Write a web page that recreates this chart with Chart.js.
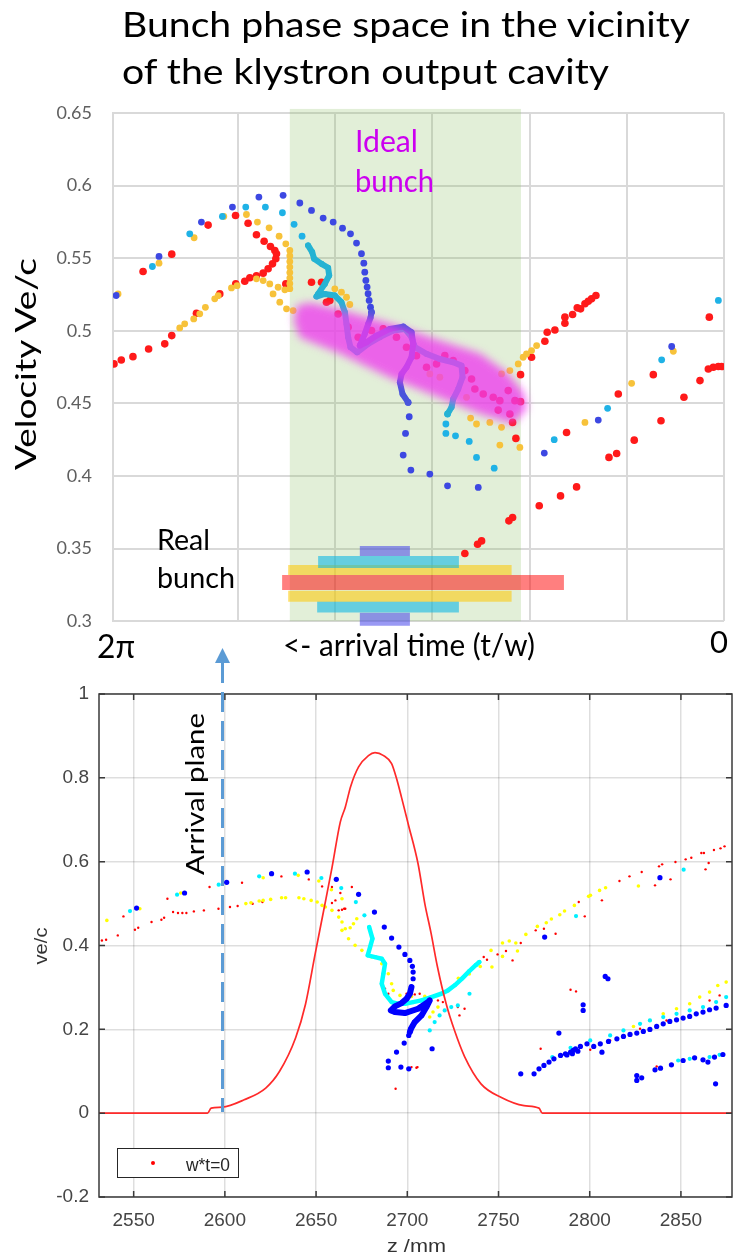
<!DOCTYPE html>
<html><head><meta charset="utf-8">
<script src="https://cdn.jsdelivr.net/npm/chart.js@4.4.0/dist/chart.umd.min.js"></script>
<style>
html,body{margin:0;padding:0;background:#fff;}
body{width:733px;height:1257px;overflow:hidden;position:relative;}
canvas{position:absolute;left:0;}
#top{top:0;}
#bot{top:670px;}
.t{position:absolute;white-space:nowrap;z-index:8;}
#leg{position:absolute;left:117px;top:1148px;width:120px;height:28px;border:1px solid #262626;background:#fff;z-index:6;}
#legdot{position:absolute;left:33px;top:12px;width:4px;height:4px;border-radius:2px;background:#ff0000;}
svg{position:absolute;left:0;top:0;z-index:7;}
</style></head><body>
<canvas id="top" width="733" height="653"></canvas>
<canvas id="bot" width="736" height="587"></canvas>
<div id="leg"><div id="legdot"></div></div>
<svg width="733" height="1257">
  <line x1="222.5" y1="663" x2="222.5" y2="1112" stroke="#5b9bd5" stroke-width="3" stroke-dasharray="20 9"/>
  <polygon points="222.5,648 215,663 230,663" fill="#5b9bd5"/>
</svg>
<script>
// ================= TOP CHART DATA (x: arrival phase t, reversed 0..2π ; y: Ve/c) =================
const topYTicks = [0.3,0.35,0.4,0.45,0.5,0.55,0.6,0.65];
const greenRange = [2.088, 4.465];
const idealBand = [
 [4.393,0.5174],[4.259,0.5194],[3.951,0.5146],[3.436,0.5050],[2.922,0.4933],[2.510,0.4843],[2.233,0.4712],[2.058,0.4574],
 [2.027,0.4464],[2.171,0.4360],[2.510,0.4429],[2.922,0.4539],[3.436,0.4677],[3.951,0.4843],[4.362,0.4953],[4.424,0.5070]
];
// real bunch bars: [tStart, tEnd, v]
const realBunchBars = [
 [3.745,3.230,0.3484],[4.174,2.726,0.3408],[4.482,2.184,0.3353],[4.544,1.646,0.3267],
 [4.482,2.184,0.3172],[4.184,2.726,0.3097],[3.745,3.230,0.3013]
];
const topBlue = [
 [6.251,0.5243],[5.810,0.5512],[5.374,0.5749],[5.055,0.5852],[4.783,0.5921],[4.534,0.5933],[4.362,0.5880],[4.242,0.5829],
 [4.122,0.5776],[4.019,0.5749],[3.923,0.5707],[3.841,0.5668],[3.779,0.5604],[3.728,0.5531],[3.704,0.5466],[3.694,0.5404],
 [3.683,0.5347],[3.670,0.5301],[3.660,0.5255],[3.649,0.5209],[3.635,0.5163],[3.625,0.5128],
 [3.248,0.4507],[3.237,0.4408],[3.275,0.4293],[3.299,0.4144],[3.220,0.4041],[3.025,0.4013],[2.843,0.3932],[2.527,0.3921],
 [0.538,0.4892],[1.293,0.4385],[1.848,0.4158]
];
const topBlueDense = [
 [3.625,0.5128],[3.635,0.5090],[3.659,0.5047],[3.694,0.4979],[3.745,0.4898],[3.676,0.4921],[3.573,0.4967],[3.436,0.5013],
 [3.299,0.5029],[3.213,0.4990],[3.196,0.4910],[3.213,0.4818],[3.265,0.4749],[3.316,0.4703],[3.333,0.4645],[3.306,0.4565],[3.248,0.4507]
];
const topCyan = [
 [5.878,0.5443],[5.494,0.5668],[5.158,0.5788],[4.918,0.5852],[4.716,0.5852],[4.541,0.5813],[4.421,0.5733],[4.339,0.5652],
 [2.843,0.4427],[2.860,0.4358],[2.860,0.4293],[2.761,0.4277],[2.620,0.4238],[2.545,0.4128],[2.363,0.4054],
 [0.058,0.5209],[0.641,0.4800],[1.197,0.4466],[1.746,0.4250]
];
const topCyanDense = [
 [4.277,0.5588],[4.235,0.5542],[4.215,0.5496],[4.139,0.5461],[4.071,0.5434],[4.060,0.5381],[4.105,0.5323],[4.174,0.5254],
 [4.191,0.5236],[4.105,0.5254],[4.002,0.5243],[3.934,0.5197],[3.899,0.5128],[3.882,0.5047],[3.865,0.4955],[3.841,0.4887],
 [3.772,0.4852],[3.659,0.4910],[3.539,0.4956],[3.402,0.5002],[3.282,0.5013],[3.213,0.4956],[3.179,0.4887],[3.059,0.4841],
 [2.922,0.4806],[2.785,0.4783],[2.699,0.4760],[2.689,0.4680],[2.733,0.4599],[2.785,0.4530],[2.802,0.4473],[2.843,0.4427]
];
const topGold = [
 [6.231,0.5254],[5.810,0.5466],[5.449,0.5641],[5.144,0.5788],[4.911,0.5801],[4.798,0.5749],[4.678,0.5709],[4.575,0.5652],[4.506,0.5599],
 [4.465,0.5553],[4.465,0.5515],[4.465,0.5477],[4.465,0.5439],[4.465,0.5401],[4.465,0.5363],[4.465,0.5325],[4.465,0.5290],
 [4.516,0.5282],[4.585,0.5300],[4.671,0.5323],[4.739,0.5346],[4.808,0.5358],
 [4.637,0.5254],[4.568,0.5197],[4.499,0.5151],[4.431,0.5139],
 [5.597,0.5020],[5.546,0.5048],[5.453,0.5082],[5.391,0.5117],[5.333,0.5162],[5.237,0.5220],[5.202,0.5242],[5.065,0.5295],[5.007,0.5311],
 [4.002,0.5289],[3.934,0.5266],[3.882,0.5231],[3.848,0.5181],
 [3.025,0.4703],[2.922,0.4680],[2.648,0.4542],[2.408,0.4369],[2.288,0.4335],[2.288,0.4703],[2.202,0.4726],[2.116,0.4772],
 [2.065,0.4818],[2.031,0.4841],[1.979,0.4864],[1.927,0.4898],
 [0.950,0.4638],[1.430,0.4369],[0.521,0.4859],[2.099,0.4197],[2.305,0.4213],[2.545,0.4358],[2.606,0.4399]
];
const topRed = [
 [5.974,0.5408],[5.679,0.5528],[5.305,0.5728],[5.023,0.5794],[4.894,0.5741],[4.808,0.5661],[4.729,0.5617],[4.664,0.5581],
 [4.619,0.5553],[4.602,0.5530],[4.609,0.5496],[4.643,0.5461],[4.688,0.5427],[4.739,0.5397],[4.808,0.5379],[4.876,0.5365],
 [4.928,0.5341],[5.021,0.5323],[4.506,0.5323],[4.242,0.5334],[4.139,0.5334],[4.053,0.5208],
 [6.273,0.4772],[6.198,0.4799],[6.078,0.4822],[5.917,0.4875],[5.751,0.4910],[5.679,0.4967],[5.425,0.5121],[5.185,0.5254],
 [4.088,0.5197],[3.968,0.5116],[3.865,0.5025],[3.762,0.4956],[3.625,0.5002],[3.505,0.5013],[3.368,0.4956],[3.265,0.4887],
 [3.162,0.4829],[3.059,0.4749],[2.956,0.4772],[2.871,0.4829],[2.785,0.4795],[2.665,0.4726],[2.596,0.4668],[2.562,0.4599],
 [2.476,0.4565],[2.373,0.4542],[2.305,0.4519],[2.219,0.4588],[2.150,0.4519],[2.322,0.4454],[2.202,0.4427],
 [1.842,0.4928],[1.818,0.4990],[1.739,0.5006],[1.636,0.5052],[1.636,0.5094],[1.557,0.5112],[1.509,0.5158],[1.475,0.5151],
 [1.430,0.5186],[1.396,0.5204],[1.362,0.5220],[1.317,0.5243],[1.979,0.4818],
 [0.151,0.5094],[0.161,0.4737],[0.110,0.4749],[0.058,0.4754],[0.024,0.4754],
 [0.247,0.4657],[0.412,0.4542],[0.648,0.4381],[0.727,0.4698],[0.923,0.4247],[1.104,0.4155],[1.183,0.4128],[1.087,0.4565],
 [1.619,0.4300],[1.516,0.3925],[1.681,0.3863],[1.900,0.3795],[2.174,0.3714],[2.212,0.3691],[2.493,0.3553],[2.534,0.3530],[2.665,0.3466],
 [2.092,0.4698],[2.092,0.4512],[2.140,0.4259],[2.174,0.4369]
];

// ================= BOTTOM CHART DATA (x: z /mm ; y: ve/c) =================
const botXTicks = [2550,2600,2650,2700,2750,2800,2850];
const botYTicks = [-0.2,0,0.2,0.4,0.6,0.8,1];
const fieldCurve = [
 [2531,0],[2590.5,0],[2592.5,0.012],[2598.5,0.0143],[2610.6,0.032],[2622.4,0.06],[2630,0.10],[2638.8,0.18],[2644.2,0.26],
 [2649.5,0.38],[2654,0.48],[2658.7,0.585],[2663.3,0.695],[2666,0.73],[2669,0.78],[2673.3,0.826],[2678.7,0.853],[2682.3,0.86],
 [2687,0.853],[2691.4,0.834],[2694,0.80],[2696.8,0.754],[2700.5,0.69],[2705.9,0.595],[2709.6,0.50],[2713,0.43],[2716.5,0.35],
 [2721.3,0.261],[2725.9,0.197],[2731.4,0.135],[2740.4,0.070],[2751.3,0.038],[2764,0.018],[2772.2,0.012],[2774,0],[2878,0]
];
const botBlue = [
 [2551.6,0.4894],[2577.9,0.5252],[2601.0,0.5506],[2625.6,0.5713],[2645.1,0.5753],[2661.1,0.5578],[2673.3,0.5220],[2682.0,0.4798],
 [2687.4,0.4440],[2691.4,0.4178],[2695.4,0.3963],[2698.7,0.3788],[2701.4,0.3645],[2702.8,0.3502],[2703.2,0.3366],[2703.2,0.3207],[2702.3,0.3008],
 [2700.8,0.1855],[2698.3,0.1672],[2694.1,0.1457],[2689.6,0.1242],[2689.6,0.1083],[2696.5,0.1099],[2700.8,0.1059],[2713.6,0.1537],
 [2775.3,0.4201],[2838.5,0.5618],[2808.5,0.3263],[2810.0,0.3207],[2796.4,0.2587],[2796.4,0.2451],[2783.1,0.1910],[2806.7,0.1456],
 [2762.2,0.0939],[2769.5,0.0939],[2772.2,0.1059],[2774.9,0.1138],[2777.7,0.1218],[2780.4,0.1297],[2784.0,0.1377],[2786.7,0.1417],
 [2787.5,0.1390],[2790.5,0.1420],[2793.5,0.1480],[2791.0,0.1500],
 [2789.5,0.1456],[2792.2,0.1536],[2794.9,0.1592],[2798.5,0.1655],[2802.2,0.1592],[2805.8,0.1655],[2810.3,0.1711],[2814.9,0.1774],
 [2818.5,0.1830],[2822.1,0.1878],[2825.8,0.1910],[2829.4,0.1950],[2833.0,0.1997],[2836.7,0.2069],[2840.3,0.2132],[2843.9,0.2188],
 [2847.6,0.2228],[2851.2,0.2268],[2854.8,0.2308],[2858.4,0.2371],[2862.1,0.2411],[2865.7,0.2467],[2869.3,0.2506],[2874.8,0.2570],
 [2825.8,0.0899],[2825.8,0.0780],[2828.5,0.0844],[2835.8,0.1035],[2838.8,0.1074],[2844.8,0.1154],[2851.2,0.1257],[2857.5,0.1321],
 [2862.1,0.1273],[2864.8,0.1218],[2868.4,0.1337],[2873.0,0.1400],[2869.0,0.0700]
];
const botBlueDense = [
 [2702.3,0.3008],[2701.4,0.2849],[2699.6,0.2730],[2696.9,0.2626],[2693.2,0.2547],[2691.0,0.2452],[2693.2,0.2412],[2698.7,0.2388],
 [2705.9,0.2491],[2711.4,0.2650],[2712.3,0.2690],[2710.5,0.2531],[2707.8,0.2332],[2704.1,0.2173],[2702.0,0.2014],[2701.4,0.1934]
];
const botCyan = [
 [2548.0,0.4822],[2573.8,0.5212],[2596.6,0.5451],[2618.8,0.5650],[2638.4,0.5713],[2652.9,0.5610],[2663.8,0.5371],[2671.8,0.5037],[2676.5,0.4719],
 [2712.3,0.1974],[2715.0,0.2173],[2717.7,0.2332],[2720.5,0.2452],[2724.1,0.2531],[2727.7,0.2571],[2734.1,0.2849],
 [2792.5,0.4703],[2851.5,0.5809],
 [2779.5,0.1337],[2789.5,0.1560],[2800.3,0.1735],[2811.2,0.1854],[2818.5,0.1974],[2827.6,0.2132],[2833.0,0.2212],[2840.3,0.2292],
 [2847.6,0.2371],[2854.8,0.2451],[2862.1,0.2530],[2869.3,0.2650],[2874.8,0.2769],
 [2848.5,0.1257],[2854.8,0.1297],[2865.7,0.1337],[2871.2,0.1393]
];
const botCyanDense = [
 [2679.1,0.4440],[2680.9,0.4162],[2679.6,0.3963],[2678.3,0.3764],[2682.3,0.3724],[2686.0,0.3684],[2687.8,0.3565],[2686.9,0.3326],
 [2686.0,0.3088],[2687.8,0.2849],[2691.4,0.2650],[2695.0,0.2610],[2698.7,0.2610],[2703.2,0.2650],[2707.8,0.2690],[2713.2,0.2770],
 [2718.6,0.2849],[2722.3,0.2929],[2726.0,0.3050],[2730.0,0.3210],[2734.0,0.3390],[2737.5,0.3530],[2739.5,0.3605]
];
const botYellow = [
 [2535.3,0.4599],[2553.4,0.4878],[2575.8,0.5252],[2621.0,0.5617],[2640.2,0.5673],[2651.5,0.5538],[2658.4,0.5331],[2664.2,0.5116],
 [2611.5,0.5000],[2614.3,0.5020],[2618.8,0.5060],[2621.0,0.5076],[2625.1,0.5100],[2631.1,0.5140],[2633.3,0.5140],[2640.6,0.5140],
 [2643.3,0.5116],[2647.3,0.5076],[2650.6,0.5036],[2653.3,0.4957],[2655.1,0.4917],[2658.7,0.4838],[2662.4,0.4678],[2664.2,0.4559],
 [2666.0,0.4400],[2668.7,0.4424],[2670.5,0.4520],[2672.3,0.4639],
 [2664.2,0.4361],[2667.8,0.4162],[2671.4,0.4003],[2675.1,0.3884],[2680.5,0.3724],[2686.0,0.3565],[2689.6,0.3326],[2691.4,0.3088],
 [2692.3,0.2929],[2696.0,0.2810],[2702.3,0.2786],[2709.6,0.2786],[2714.1,0.2412],[2712.3,0.2293],[2716.8,0.2531],
 [2728.0,0.3220],[2734.0,0.3320],[2740.0,0.3500],
 [2745.9,0.3883],[2752.2,0.4058],[2755.9,0.4106],[2759.5,0.4058],[2765.0,0.4265],[2771.3,0.4456],[2776.2,0.4544],[2779.0,0.4631],
 [2783.6,0.4735],[2786.2,0.4822],[2791.6,0.4957],[2799.4,0.5172],[2800.4,0.5196],[2805.4,0.5315],[2808.7,0.5379],[2826.7,0.5419],
 [2746.4,0.3486],[2752.2,0.3740],[2760.4,0.3867],
 [2824.0,0.2069],[2833.0,0.2212],[2840.3,0.2371],[2847.6,0.2491],[2854.8,0.2610],[2860.3,0.2769],[2865.7,0.2888],[2870.2,0.3047],[2874.8,0.3127]
];
const botRed = [
 [2532.6,0.4121],[2534.9,0.4137],[2541.3,0.4241],[2544.4,0.4694],[2550.7,0.4376],[2552.5,0.4424],[2559.8,0.4559],[2568.5,0.5116],
 [2565.2,0.4615],[2566.7,0.4662],[2571.6,0.4798],[2574.3,0.4774],[2576.7,0.4774],[2578.9,0.4774],[2583.0,0.4813],[2588.5,0.4837],
 [2596.5,0.4877],[2591.6,0.5394],[2609.4,0.5498],[2602.8,0.4917],[2607.0,0.4941],[2615.2,0.4997],[2620.6,0.5037],[2631.0,0.5649],
 [2646.0,0.5577],[2653.3,0.5410],[2658.7,0.5395],[2663.3,0.5252],[2669.6,0.5395],[2660.6,0.5076],[2662.4,0.4838],[2666.0,0.4877],
 [2658.7,0.5013],[2664.2,0.4854],[2665.4,0.4878],
 [2678.7,0.3764],[2683.2,0.3724],[2687.8,0.2968],[2689.6,0.2849],[2699.6,0.2849],[2704.1,0.2833],[2706.8,0.2849],[2716.8,0.2690],
 [2719.5,0.2650],[2727.7,0.2531],[2728.6,0.2332],[2731.4,0.2491],[2702.3,0.1099],[2705.6,0.1099],[2693.6,0.0581],[2705.0,0.1082],
 [2741.9,0.3724],[2743.7,0.3661],[2749.5,0.3788],[2754.1,0.3867],[2757.7,0.3645],[2762.2,0.4058],[2770.4,0.4361],[2774.9,0.4400],
 [2781.3,0.4281],[2794.0,0.5037],[2797.3,0.4695],[2806.7,0.5077],[2816.3,0.5538],[2821.8,0.5650],[2828.5,0.5753],[2835.8,0.5435],
 [2838.0,0.5888],[2839.7,0.5936],[2844.3,0.5578],[2847.0,0.5992],[2852.6,0.6055],[2855.7,0.6095],[2861.2,0.6206],[2862.6,0.6206],
 [2865.2,0.5968],[2863.5,0.5817],[2868.1,0.6278],[2871.7,0.6318],[2873.9,0.6366],
 [2789.5,0.2945],[2792.5,0.2905],[2773.1,0.1536],[2836.7,0.1114],
 [2800.3,0.1512],[2811.2,0.1735],[2827.6,0.2013],[2842.1,0.2212],[2854.8,0.2451],[2865.7,0.2689],[2871.2,0.2809]
];

// ================= helpers =================
const P = a => a.map(([x, y]) => ({x, y}));
function scatter(data, color, r) {
  return {data: P(data), backgroundColor: color, borderWidth: 0, pointRadius: r, pointHoverRadius: r, showLine: false};
}
function dense(data, color, w, r) {
  return {data: P(data), borderColor: color, backgroundColor: color, borderWidth: w, pointRadius: r, pointBorderWidth: 0,
          showLine: true, tension: 0, borderJoinStyle: 'round', borderCapStyle: 'round'};
}
const barColors = ['rgba(70,70,235,0.55)','rgba(0,180,230,0.55)','rgba(255,200,0,0.55)','rgba(255,0,0,0.5)',
                   'rgba(255,200,0,0.55)','rgba(0,180,230,0.55)','rgba(70,70,235,0.55)'];
const barWidths = [10,12,10,15,11,11,13];

Chart.defaults.font.family = 'Lato';

const topPlugin = {
  id: 'topDeco',
  beforeDatasetsDraw(chart) {
    const {ctx, scales: {x, y}} = chart;
    const x1 = x.getPixelForValue(greenRange[1]), x2 = x.getPixelForValue(greenRange[0]);
    const y1 = y.getPixelForValue(0.6528), y2 = y.getPixelForValue(0.3);
    ctx.save();
    ctx.fillStyle = 'rgba(140,190,100,0.25)';
    ctx.fillRect(x1, y1, x2 - x1, y2 - y1);
    ctx.restore();
  },
  afterDatasetsDraw(chart) {
    const {ctx, scales: {x, y}} = chart;
    ctx.save();
    ctx.filter = 'blur(4px)';
    ctx.fillStyle = 'rgba(238,60,238,0.78)';
    ctx.beginPath();
    idealBand.forEach(([t, v], i) => {
      const px = x.getPixelForValue(t), py = y.getPixelForValue(v);
      i ? ctx.lineTo(px, py) : ctx.moveTo(px, py);
    });
    ctx.closePath();
    ctx.fill();
    ctx.restore();
  }
};

const topDatasets = [
  dense(topBlueDense, '#4a56dc', 6, 3),
  scatter(topBlue, '#3d48e2', 3.4),
  dense(topCyanDense, '#25b3d3', 6, 3),
  scatter(topCyan, '#1fb2e6', 3.4),
  scatter(topGold, '#f7c23a', 3.4),
  scatter(topRed, '#ff1a1a', 3.8)
];
realBunchBars.forEach(([a, b, v], i) => {
  topDatasets.push({data: [{x: a, y: v}, {x: b, y: v}], showLine: true, borderColor: barColors[i],
    borderWidth: barWidths[i], borderCapStyle: 'butt', pointRadius: 0, clip: false});
});

new Chart(document.getElementById('top'), {
  type: 'scatter',
  data: {datasets: topDatasets},
  plugins: [topPlugin],
  options: {
    responsive: false, animation: false, devicePixelRatio: 1,
    layout: {padding: {left: 0, right: 9, top: 113, bottom: 20}},
    plugins: {legend: {display: false}, tooltip: {enabled: false}},
    events: [],
    scales: {
      x: {type: 'linear', reverse: true, min: 0, max: 2 * Math.PI,
          afterBuildTicks: s => { s.ticks = s.ticks.filter(t => Math.abs(t.value - Math.round(t.value)) < 1e-6); },
          afterFit: s => { s.height = 0; },
          ticks: {display: false, stepSize: 1},
          grid: {color: '#d9d9d9', lineWidth: 2, drawTicks: false},
          border: {display: false}},
      y: {min: 0.3, max: 0.65,
          afterBuildTicks: s => { s.ticks = topYTicks.map(v => ({value: v})); },
          afterFit: s => { s.width = 113; },
          ticks: {padding: 21, color: '#5f5f5f', font: {family: 'Lato', size: 18}, callback: v => String(+v.toFixed(2))},
          grid: {color: '#d9d9d9', lineWidth: 2, drawTicks: false},
          border: {display: true, color: '#d9d9d9', width: 2}}
    }
  }
});

const framePlugin = {
  id: 'frame',
  afterDraw(chart) {
    const {ctx, chartArea: a, scales: {x, y}} = chart;
    ctx.save();
    ctx.strokeStyle = '#3a3a3a';
    ctx.lineWidth = 1.5;
    ctx.strokeRect(a.left, a.top, a.right - a.left, a.bottom - a.top);
    ctx.beginPath();
    botXTicks.forEach(v => {
      const px = x.getPixelForValue(v);
      ctx.moveTo(px, a.bottom); ctx.lineTo(px, a.bottom - 6);
      ctx.moveTo(px, a.top); ctx.lineTo(px, a.top + 6);
    });
    botYTicks.forEach(v => {
      const py = y.getPixelForValue(v);
      ctx.moveTo(a.left, py); ctx.lineTo(a.left + 6, py);
      ctx.moveTo(a.right, py); ctx.lineTo(a.right - 6, py);
    });
    ctx.stroke();
    ctx.restore();
  }
};

new Chart(document.getElementById('bot'), {
  type: 'scatter',
  data: {datasets: [
    {data: P(fieldCurve), showLine: true, borderColor: '#ff2a2a', borderWidth: 1.7, pointRadius: 0, cubicInterpolationMode: 'monotone'},
    dense(botBlueDense, '#0000ff', 6, 2.6),
    scatter(botBlue, '#0000ff', 2.6),
    dense(botCyanDense, '#00ffff', 4.5, 2.1),
    scatter(botCyan, '#00f0ff', 2.1),
    scatter(botYellow, '#ffff00', 1.8),
    scatter(botRed, '#ff0000', 1.2)
  ]},
  plugins: [framePlugin],
  options: {
    responsive: false, animation: false, devicePixelRatio: 1,
    layout: {padding: {left: 0, right: 0, top: 24, bottom: 0}},
    plugins: {legend: {display: false}, tooltip: {enabled: false}},
    events: [],
    scales: {
      x: {type: 'linear', min: 2531, max: 2878,
          afterBuildTicks: s => { s.ticks = botXTicks.map(v => ({value: v})); },
          afterFit: s => { s.height = 60; },
          ticks: {padding: 12, color: '#454545', font: {family: 'Liberation Sans', size: 19}, callback: v => String(v)},
          grid: {color: 'rgba(0,0,0,0.13)', lineWidth: 1.5, drawTicks: false},
          border: {display: false}},
      y: {min: -0.2, max: 1,
          afterBuildTicks: s => { s.ticks = botYTicks.map(v => ({value: v})); },
          afterFit: s => { s.width = 99; },
          ticks: {padding: 10, color: '#454545', font: {family: 'Liberation Sans', size: 19}, callback: v => String(+v.toFixed(1))},
          grid: {color: 'rgba(0,0,0,0.13)', lineWidth: 1.5, drawTicks: false},
          border: {display: false}}
    }
  }
});

// ================= texts =================
const ASC = {Lato: 0.887, 'Liberation Sans': 0.8465};
function addText(txt, o) {
  const el = document.createElement('div');
  el.className = 't';
  el.textContent = txt;
  el.style.fontFamily = o.f;
  el.style.fontSize = o.s + 'px';
  el.style.lineHeight = o.s + 'px';
  el.style.color = o.c || '#000';
  document.body.appendChild(el);
  const w = el.getBoundingClientRect().width;
  const sx = o.w ? o.w / w : 1;
  if (o.rot) {
    el.style.left = o.x + 'px';
    el.style.top = o.y + 'px';
    el.style.transform = `translate(-50%,-50%) rotate(-90deg) scaleX(${sx})`;
  } else {
    el.style.left = o.x + 'px';
    el.style.top = (o.base - ASC[o.f] * o.s) + 'px';
    el.style.transformOrigin = '0 0';
    el.style.transform = `scaleX(${sx})`;
  }
}
addText('Bunch phase space in the vicinity', {f: 'Lato', s: 35, x: 122, base: 37, w: 568});
addText('of the klystron output cavity', {f: 'Lato', s: 35, x: 122, base: 84, w: 487});
addText('Ideal', {f: 'Lato', s: 30, x: 355, base: 152, w: 63, c: '#cc00f0'});
addText('bunch', {f: 'Lato', s: 30, x: 355, base: 192, w: 79, c: '#cc00f0'});
addText('Real', {f: 'Lato', s: 28, x: 157, base: 550, w: 53});
addText('bunch', {f: 'Lato', s: 28, x: 157, base: 588, w: 78});
addText('2\u03c0', {f: 'Lato', s: 32, x: 97, base: 658, w: 38});
addText('<- arrival time (t/w)', {f: 'Lato', s: 30, x: 283, base: 656, w: 252});
addText('0', {f: 'Lato', s: 30, x: 710, base: 653, w: 18});
addText('Velocity Ve/c', {f: 'Lato', s: 28, x: 25, y: 364, w: 212, rot: true});
addText('Arrival plane', {f: 'Lato', s: 25, x: 194, y: 794, w: 162, rot: true});
addText('ve/c', {f: 'Liberation Sans', s: 19, x: 40, y: 946, w: 37, rot: true, c: '#333'});
addText('z /mm', {f: 'Liberation Sans', s: 19, x: 387, base: 1252, w: 59, c: '#333'});
addText('w*t=0', {f: 'Liberation Sans', s: 17.5, x: 186, base: 1172, w: 44, c: '#262626'});
</script>
</body></html>
